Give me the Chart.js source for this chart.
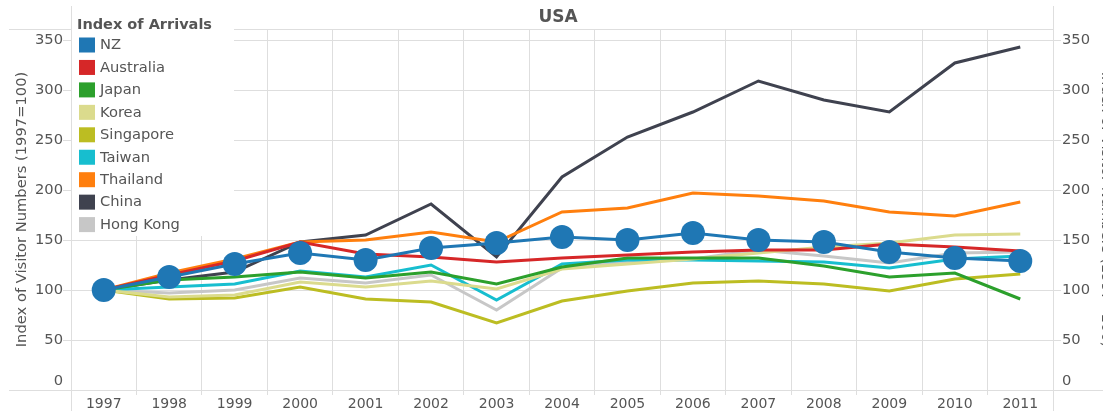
<!DOCTYPE html>
<html>
<head>
<meta charset="utf-8">
<script src="https://cdn.jsdelivr.net/npm/chart.js@4.4.1/dist/chart.umd.min.js"></script>
<style>
  html, body { margin: 0; padding: 0; background: #fff; overflow: hidden; }
  #wrap { width: 1116px; height: 411px; position: relative; }
</style>
</head>
<body>
<div id="wrap"><canvas id="arrivals"></canvas></div>
<script>
const years = ['1997', '1998', '1999', '2000', '2001', '2002', '2003', '2004',
  '2005', '2006', '2007', '2008', '2009', '2010', '2011'];

const nz        = [100, 113, 126, 137, 130, 142, 147, 153, 150, 157, 150, 148, 138, 132, 129];
const australia = [100, 115, 129, 148, 136, 133, 128, 132, 135, 138, 140, 140, 146, 143, 139];
const japan     = [100, 110, 113, 118, 112, 118, 106, 123, 132, 132, 132, 124, 113, 117, 91];
const korea     = [100, 93, 95, 108, 103, 109, 101, 121, 126, 131, 137, 143, 147, 155, 156];
const singapore = [100, 91, 92, 103, 91, 88, 67, 89, 99, 107, 109, 106, 99, 111, 116];
const taiwan    = [100, 103, 106, 119, 113, 125, 90, 126, 130, 130, 129, 128, 122, 131, 134];
const thailand  = [100, 117, 131, 148, 150, 158, 148, 178, 182, 197, 194, 189, 178, 174, 188];
const china     = [100, 110, 118, 148, 155, 186, 133, 213, 253, 278, 309, 290, 278, 327, 343];
const hongKong  = [100, 97, 100, 112, 107, 115, 80, 122, 128, 131, 140, 134, 127, 137, 138];

const TEXT = '#555';
const GRID = '#dedede';
Chart.defaults.font.family = "'DejaVu Sans', Verdana, sans-serif";
Chart.defaults.color = TEXT;

const line = (label, data, color) => ({
  label: label,
  data: data,
  borderColor: color,
  backgroundColor: color,
  borderWidth: 3,
  pointRadius: 0,
  pointHoverRadius: 0,
  tension: 0
});

const nzSet = line('NZ', nz, '#1f77b4');
nzSet.pointRadius = 12;
nzSet.pointBorderWidth = 0;
nzSet.pointBackgroundColor = '#1f77b4';

const datasets = [
  nzSet,
  line('Australia', australia, '#d62728'),
  line('Japan', japan, '#2ca02c'),
  line('Korea', korea, '#dbdb8d'),
  line('Singapore', singapore, '#bcbd22'),
  line('Taiwan', taiwan, '#17becf'),
  line('Thailand', thailand, '#ff7f0e'),
  line('China', china, '#3f424f'),
  line('Hong Kong', hongKong, '#c7c7c7')
];

// frame lines + boxed legend over the top-left of the plot
const legendBox = {
  id: 'legendBox',
  beforeDatasetsDraw(chart) {
    const ctx = chart.ctx;
    const a = chart.chartArea;
    ctx.save();
    ctx.strokeStyle = GRID;
    ctx.lineWidth = 1;
    ctx.beginPath();
    ctx.moveTo(a.left + 0.5, 6); ctx.lineTo(a.left + 0.5, chart.height);
    ctx.moveTo(a.right + 0.5, 6); ctx.lineTo(a.right + 0.5, chart.height);
    ctx.moveTo(9, a.bottom + 0.5); ctx.lineTo(chart.width, a.bottom + 0.5);
    ctx.moveTo(9, Math.round(a.top) + 0.5); ctx.lineTo(a.right, Math.round(a.top) + 0.5);
    ctx.stroke();

    ctx.fillStyle = '#fff';
    ctx.fillRect(a.left + 1, 7, 162, 229);

    ctx.fillStyle = TEXT;
    ctx.textBaseline = 'middle';
    ctx.font = "bold 14.5px 'DejaVu Sans'";
    ctx.fillText('Index of Arrivals', a.left + 6, 25);
    ctx.font = "14.7px 'DejaVu Sans'";
    chart.data.datasets.forEach((ds, i) => {
      const y = 45 + i * 22.45;
      ctx.fillStyle = ds.borderColor;
      ctx.fillRect(a.left + 8, y - 7.5, 16, 15);
      ctx.fillStyle = TEXT;
      ctx.fillText(ds.label, a.left + 29, y + 0.5);
    });
    ctx.restore();
  }
};

// lift the "0" label off the bottom edge like the original
const yLabel = v => (v === 0 ? ['0', ''] : String(v));

new Chart(document.getElementById('arrivals'), {
  type: 'line',
  data: { labels: years, datasets: datasets },
  options: {
    responsive: true,
    maintainAspectRatio: false,
    animation: false,
    layout: { padding: 0 },
    plugins: {
      legend: { display: false },
      tooltip: { enabled: false },
      title: {
        display: true,
        text: 'USA',
        color: TEXT,
        font: { size: 17, weight: 'bold' },
        padding: { top: 7.5, bottom: 1.1 }
      }
    },
    scales: {
      x: {
        offset: true,
        afterFit: s => { s.height = 21; },
        grid: { offset: true, color: GRID, tickLength: 5 },
        border: { display: false },
        ticks: { font: { size: 14 }, padding: 1, maxRotation: 0, autoSkip: false }
      },
      y: {
        position: 'left',
        min: 0,
        max: 361,
        afterFit: s => { s.width = 71; },
        grid: { color: GRID, tickLength: 8 },
        border: { display: false },
        ticks: { stepSize: 50, includeBounds: false, font: { size: 14.7 }, padding: 0, callback: yLabel, autoSkip: false },
        title: {
          display: true,
          text: 'Index of Visitor Numbers (1997=100)',
          font: { size: 14.7 },
          padding: { top: 13.5, bottom: 0 }
        }
      },
      y2: {
        position: 'right',
        min: 0,
        max: 361,
        afterFit: s => { s.width = 63; },
        grid: { drawOnChartArea: false, color: GRID, tickLength: 8 },
        border: { display: false },
        ticks: { stepSize: 50, includeBounds: false, font: { size: 14.7 }, padding: 1, callback: yLabel, autoSkip: false },
        title: {
          display: true,
          text: 'Index of Visitor Numbers (1997=100)',
          font: { size: 14.7 },
          padding: { top: 1, bottom: 0 }
        }
      }
    }
  },
  plugins: [legendBox]
});
</script>
</body>
</html>
